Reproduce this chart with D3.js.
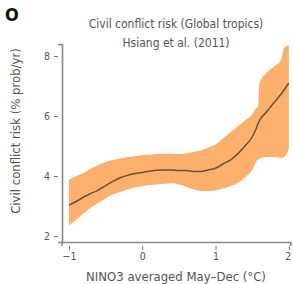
<!DOCTYPE html>
<html>
<head>
<meta charset="utf-8">
<script src="https://cdn.jsdelivr.net/npm/d3@7"></script>
<style>
  body { margin: 0; background: #fff; }
  svg text { font-family: "Liberation Sans Narrow", "DejaVu Sans Condensed", sans-serif; fill: #555; }
</style>
</head>
<body>
<div id="chart"></div>
<script>
const WIDTH = 293;
const HEIGHT = 284;

// NINO3 value (deg C) and civil conflict risk (% prob/yr)
var nino = [-1, -0.9, -0.8, -0.7, -0.6, -0.5, -0.4, -0.3, -0.2, -0.1, 0, 0.1, 0.2, 0.3, 0.4, 0.5,
            0.6, 0.7, 0.8, 0.9, 1.0, 1.1, 1.2, 1.3, 1.4, 1.5, 1.55, 1.58, 1.6, 1.7, 1.8, 1.9, 1.93, 2.0];
var risk = [3.03, 3.15, 3.3, 3.42, 3.53, 3.68, 3.82, 3.94, 4.02, 4.08, 4.12, 4.16, 4.19, 4.2, 4.2, 4.18,
            4.18, 4.15, 4.15, 4.2, 4.26, 4.4, 4.53, 4.73, 5.0, 5.3, 5.55, 5.75, 5.85, 6.15, 6.45, 6.75, 6.85, 7.1];
var upper = [3.87, 4.0, 4.1, 4.25, 4.37, 4.47, 4.53, 4.58, 4.63, 4.66, 4.7, 4.71, 4.73, 4.74, 4.74, 4.73,
             4.75, 4.8, 4.85, 4.95, 5.05, 5.25, 5.45, 5.65, 5.85, 6.05, 6.25, 6.3, 7.1, 7.45, 7.65, 7.9, 8.25, 8.37];
var lower = [2.35, 2.55, 2.75, 2.95, 3.1, 3.25, 3.38, 3.47, 3.55, 3.62, 3.66, 3.7, 3.72, 3.74, 3.76, 3.72,
             3.64, 3.55, 3.5, 3.5, 3.52, 3.58, 3.66, 3.76, 3.95, 4.2, 4.45, 4.55, 4.58, 4.63, 4.63, 4.6, 4.62, 4.9];

var xTicks = [-1, 0, 1, 2];
var yTicks = [2, 4, 6, 8];

var data = nino.map(function(d, i) {
  return { x: d, y: risk[i], lo: lower[i], hi: upper[i] };
});

var svg = d3.select("#chart").append("svg")
  .attr("width", WIDTH)
  .attr("height", HEIGHT);

var xScale = d3.scaleLinear().domain([-1.1, 2.02]).range([61.6, 290.3]);
var yScale = d3.scaleLinear().domain([1.8, 8.4]).range([242, 44]);

// confidence band
var area = d3.area()
  .x(function(d) { return xScale(d.x); })
  .y0(function(d) { return yScale(d.lo); })
  .y1(function(d) { return yScale(d.hi); })
  .curve(d3.curveMonotoneX);

svg.append("path")
  .attr("d", area(data))
  .attr("fill", "#fdb06c");

var line = d3.line()
  .x(function(d) { return xScale(d.x); })
  .y(function(d) { return yScale(d.y); })
  .curve(d3.curveMonotoneX);

svg.append("path")
  .attr("d", line(data))
  .attr("fill", "none")
  .attr("stroke", "#6a5038")
  .attr("stroke-width", 1.5);

// axes
var xAxis = d3.axisBottom(xScale).tickValues(xTicks).tickFormat(d3.format("d"))
  .tickSizeOuter(0).tickSize(4).tickPadding(7);
var yAxis = d3.axisLeft(yScale).tickValues(yTicks).tickFormat(d3.format("d"))
  .tickSizeOuter(0).tickSize(4).tickPadding(8);

var gx = svg.append("g").attr("transform", "translate(0,242)").call(xAxis);
var gy = svg.append("g").attr("transform", "translate(62,0)").call(yAxis);

[gx, gy].forEach(function(g) {
  g.select(".domain").attr("stroke", "#888").attr("stroke-width", 1.6);
  g.selectAll(".tick line").attr("stroke", "#777").attr("stroke-width", 1);
  g.selectAll(".tick text").attr("font-size", 10.5).style("fill", "#555")
    .attr("font-family", "Liberation Sans Narrow, DejaVu Sans Condensed, sans-serif");
});
// ticks sit a little off the axis line
gx.selectAll(".tick line").attr("y1", 4).attr("y2", 8);
gy.selectAll(".tick line").attr("x1", -4).attr("x2", -8);
// last x label sits against the right edge
gx.selectAll(".tick text").filter(function(d) { return d === 2; }).attr("dx", "-1");

// titles
svg.append("text")
  .attr("x", 5).attr("y", 21)
  .attr("font-size", 18).attr("font-weight", "bold")
  .style("fill", "#111")
  .text("O");

svg.append("text")
  .attr("x", 176).attr("y", 28)
  .attr("text-anchor", "middle").attr("font-size", 12)
  .text("Civil conflict risk (Global tropics)");

svg.append("text")
  .attr("x", 176).attr("y", 47)
  .attr("text-anchor", "middle").attr("font-size", 12)
  .text("Hsiang et al. (2011)");

svg.append("text")
  .attr("x", 176).attr("y", 281)
  .attr("text-anchor", "middle").attr("font-size", 13)
  .text("NINO3 averaged May\u2013Dec (\u00b0C)");

svg.append("text")
  .attr("transform", "translate(20,131) rotate(-90)")
  .attr("text-anchor", "middle").attr("font-size", 13)
  .text("Civil conflict risk  (% prob/yr)");
</script>
</body>
</html>
